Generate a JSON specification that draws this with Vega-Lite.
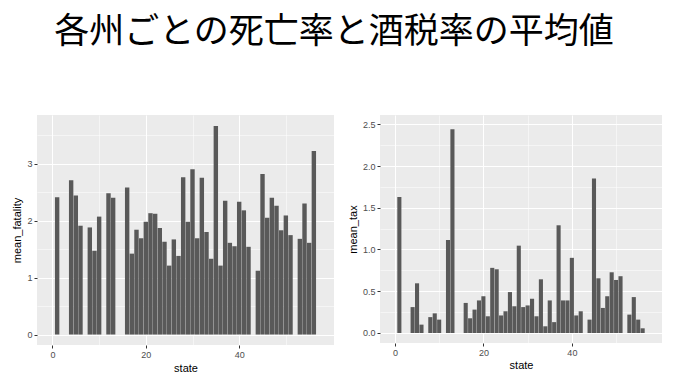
{
  "$schema": "https://vega.github.io/schema/vega-lite/v6.json",
  "padding": {"left": 11, "top": 15, "right": 8, "bottom": 8},
  "background": "white",
  "title": {
    "text": "各州ごとの死亡率と酒税率の平均値",
    "font": "Noto Sans CJK JP",
    "fontSize": 35,
    "fontWeight": "normal",
    "color": "black",
    "anchor": "middle",
    "offset": 65,
    "dx": -3
  },
  "datasets": {
    "states": [
      {"state": 1, "mean_fatality": 2.41, "mean_tax": 1.63},
      {"state": 4, "mean_fatality": 2.71, "mean_tax": 0.31},
      {"state": 5, "mean_fatality": 2.44, "mean_tax": 0.595},
      {"state": 6, "mean_fatality": 1.91, "mean_tax": 0.10},
      {"state": 8, "mean_fatality": 1.88, "mean_tax": 0.19},
      {"state": 9, "mean_fatality": 1.47, "mean_tax": 0.235},
      {"state": 10, "mean_fatality": 2.07, "mean_tax": 0.16},
      {"state": 12, "mean_fatality": 2.48, "mean_tax": 1.114},
      {"state": 13, "mean_fatality": 2.40, "mean_tax": 2.44},
      {"state": 16, "mean_fatality": 2.58, "mean_tax": 0.36},
      {"state": 17, "mean_fatality": 1.42, "mean_tax": 0.176},
      {"state": 18, "mean_fatality": 1.84, "mean_tax": 0.28},
      {"state": 19, "mean_fatality": 1.69, "mean_tax": 0.39},
      {"state": 20, "mean_fatality": 1.98, "mean_tax": 0.44},
      {"state": 21, "mean_fatality": 2.13, "mean_tax": 0.20},
      {"state": 22, "mean_fatality": 2.12, "mean_tax": 0.78},
      {"state": 23, "mean_fatality": 1.87, "mean_tax": 0.763},
      {"state": 24, "mean_fatality": 1.63, "mean_tax": 0.21},
      {"state": 25, "mean_fatality": 1.21, "mean_tax": 0.26},
      {"state": 26, "mean_fatality": 1.67, "mean_tax": 0.49},
      {"state": 27, "mean_fatality": 1.38, "mean_tax": 0.32},
      {"state": 28, "mean_fatality": 2.76, "mean_tax": 1.046},
      {"state": 29, "mean_fatality": 1.98, "mean_tax": 0.31},
      {"state": 30, "mean_fatality": 2.90, "mean_tax": 0.33},
      {"state": 31, "mean_fatality": 1.69, "mean_tax": 0.41},
      {"state": 32, "mean_fatality": 2.75, "mean_tax": 0.20},
      {"state": 33, "mean_fatality": 1.80, "mean_tax": 0.643},
      {"state": 34, "mean_fatality": 1.33, "mean_tax": 0.08},
      {"state": 35, "mean_fatality": 3.66, "mean_tax": 0.39},
      {"state": 36, "mean_fatality": 1.21, "mean_tax": 0.13},
      {"state": 37, "mean_fatality": 2.35, "mean_tax": 1.29},
      {"state": 38, "mean_fatality": 1.61, "mean_tax": 0.39},
      {"state": 39, "mean_fatality": 1.55, "mean_tax": 0.39},
      {"state": 40, "mean_fatality": 2.33, "mean_tax": 0.90},
      {"state": 41, "mean_fatality": 2.18, "mean_tax": 0.21},
      {"state": 42, "mean_fatality": 1.54, "mean_tax": 0.26},
      {"state": 44, "mean_fatality": 1.12, "mean_tax": 0.16},
      {"state": 45, "mean_fatality": 2.82, "mean_tax": 1.85},
      {"state": 46, "mean_fatality": 2.05, "mean_tax": 0.655},
      {"state": 47, "mean_fatality": 2.40, "mean_tax": 0.30},
      {"state": 48, "mean_fatality": 2.26, "mean_tax": 0.44},
      {"state": 49, "mean_fatality": 1.83, "mean_tax": 0.727},
      {"state": 50, "mean_fatality": 2.09, "mean_tax": 0.635},
      {"state": 51, "mean_fatality": 1.745, "mean_tax": 0.68},
      {"state": 53, "mean_fatality": 1.68, "mean_tax": 0.22},
      {"state": 54, "mean_fatality": 2.30, "mean_tax": 0.43},
      {"state": 55, "mean_fatality": 1.61, "mean_tax": 0.16},
      {"state": 56, "mean_fatality": 3.22, "mean_tax": 0.056}
    ]
  },
  "config": {
    "view": {"fill": "#EBEBEB", "stroke": null},
    "axis": {
      "labelFont": "Liberation Sans",
      "titleFont": "Liberation Sans",
      "labelFontSize": 9,
      "titleFontSize": 11,
      "titleFontWeight": "normal",
      "labelColor": "#4D4D4D",
      "titleColor": "black",
      "domain": false,
      "tickColor": "#333333",
      "tickSize": 3,
      "labelPadding": 2,
      "gridColor": "white"
    }
  },
  "spacing": 13,
  "hconcat": [
    {
      "width": 297,
      "height": 230,
      "data": {"name": "states"},
      "mark": {"type": "bar", "size": 4.4, "color": "#595959"},
      "encoding": {
        "x": {
          "field": "state",
          "type": "quantitative",
          "scale": {"domain": [-2.245, 59.245], "nice": false, "zero": false},
          "axis": {
            "values": [0, 10, 20, 30, 40, 50],
            "format": "d",
            "labelExpr": "datum.value % 20 === 0 ? datum.label : ''",
            "tickOpacity": {"condition": {"test": "datum.value % 20 === 0", "value": 1}, "value": 0},
            "gridWidth": {"condition": {"test": "datum.value % 20 === 0", "value": 1.1}, "value": 0.5},
            "title": "state",
            "titlePadding": 3
          }
        },
        "y": {
          "field": "mean_fatality",
          "type": "quantitative",
          "scale": {"domain": [-0.1835, 3.8535], "nice": false, "zero": false},
          "axis": {
            "values": [0, 0.5, 1, 1.5, 2, 2.5, 3, 3.5],
            "format": ".0f",
            "labelExpr": "datum.value % 1 === 0 ? datum.label : ''",
            "tickOpacity": {"condition": {"test": "datum.value % 1 === 0", "value": 1}, "value": 0},
            "gridWidth": {"condition": {"test": "datum.value % 1 === 0", "value": 1.1}, "value": 0.5},
            "title": "mean_fatality",
            "titlePadding": 4
          }
        }
      }
    },
    {
      "width": 282,
      "height": 228,
      "data": {"name": "states"},
      "mark": {"type": "bar", "size": 4.1, "color": "#595959"},
      "encoding": {
        "x": {
          "field": "state",
          "type": "quantitative",
          "scale": {"domain": [-2.245, 59.245], "nice": false, "zero": false},
          "axis": {
            "values": [0, 10, 20, 30, 40, 50],
            "format": "d",
            "labelExpr": "datum.value % 20 === 0 ? datum.label : ''",
            "tickOpacity": {"condition": {"test": "datum.value % 20 === 0", "value": 1}, "value": 0},
            "gridWidth": {"condition": {"test": "datum.value % 20 === 0", "value": 1.1}, "value": 0.5},
            "title": "state",
            "titlePadding": 2
          }
        },
        "y": {
          "field": "mean_tax",
          "type": "quantitative",
          "scale": {"domain": [-0.12, 2.611], "nice": false, "zero": false},
          "axis": {
            "values": [0, 0.25, 0.5, 0.75, 1, 1.25, 1.5, 1.75, 2, 2.25, 2.5],
            "format": ".1f",
            "labelExpr": "(datum.value * 2) % 1 === 0 ? datum.label : ''",
            "tickOpacity": {"condition": {"test": "(datum.value * 2) % 1 === 0", "value": 1}, "value": 0},
            "gridWidth": {"condition": {"test": "(datum.value * 2) % 1 === 0", "value": 1.1}, "value": 0.5},
            "title": "mean_tax",
            "titlePadding": 4
          }
        }
      }
    }
  ]
}
